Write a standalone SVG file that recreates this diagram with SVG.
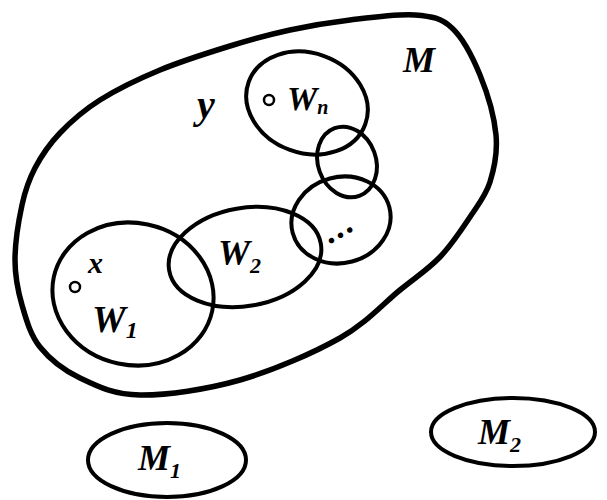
<svg xmlns="http://www.w3.org/2000/svg" width="607" height="500" viewBox="0 0 607 500">
<style>
.s{fill:none;stroke:#000;stroke-width:4}
.b{fill:none;stroke:#000;stroke-width:5.5}
.t{font-family:"Liberation Serif",serif;font-style:italic;font-weight:bold;fill:#000}
.p{fill:#fff;stroke:#000;stroke-width:2.5}
</style>
<rect width="607" height="500" fill="#fff"/>
<g id="M">
<path class="b" d="M15,260 C15,243.3 18.7,220.3 22,205 C25.3,189.7 28.7,180 35,168 C41.3,156 49.2,144.3 60,133 C70.8,121.7 83.3,110.5 100,100 C116.7,89.5 138.3,79 160,70 C181.7,61 208.3,52.7 230,46 C251.7,39.3 270,34.3 290,30 C310,25.7 329.2,22.5 350,20 C370.8,17.5 398,13.7 415,15 C432,16.3 441.2,18 452,28 C462.8,38 472.7,57.2 480,75 C487.3,92.8 494.3,117.2 496,135 C497.7,152.8 494.3,168.3 490,182 C485.7,195.7 478.3,204.5 470,217 C461.7,229.5 451.7,244.8 440,257 C428.3,269.2 416.7,276.5 400,290 C383.3,303.5 366.7,323 340,338 C313.3,353 273.3,370.5 240,380 C206.7,389.5 166.7,395.3 140,395 C113.3,394.7 96.7,386 80,378 C63.3,370 49.7,359.2 40,347 C30.3,334.8 26.2,319.5 22,305 C17.8,290.5 15,276.7 15,260 Z"/>
<text class="t" x="403" y="72" font-size="36">M</text>
</g>
<g id="W1">
<ellipse class="s" cx="133" cy="294" rx="81" ry="71" transform="rotate(12 133 294)"/>
<circle class="p" cx="75" cy="287" r="5"/>
<text class="t" x="88" y="273" font-size="30">x</text>
<text class="t" x="92" y="332" font-size="38">W<tspan font-size="24" dy="6">1</tspan></text>
</g>
<g id="W2">
<ellipse class="s" cx="245" cy="257" rx="77" ry="49" transform="rotate(-10 245 257)"/>
<text class="t" x="218" y="265" font-size="36">W<tspan font-size="22" dy="8">2</tspan></text>
</g>
<g id="Wdots">
<ellipse class="s" cx="341" cy="220" rx="50" ry="43" transform="rotate(-15 341 220)"/>
<text class="t" x="330" y="244" font-size="34" letter-spacing="2" transform="rotate(-30 330 244)">...</text>
</g>
<g id="Wlink">
<ellipse class="s" cx="347" cy="162" rx="29" ry="36" transform="rotate(-20 347 162)"/>
</g>
<g id="Wn">
<ellipse class="s" cx="307" cy="103" rx="62" ry="50" transform="rotate(20 307 103)"/>
<circle class="p" cx="269" cy="100" r="5"/>
<text class="t" x="197" y="118" font-size="40">y</text>
<text class="t" x="287" y="110" font-size="34">W<tspan font-size="20" dy="4">n</tspan></text>
</g>
<g id="M1">
<ellipse class="s" cx="167" cy="460" rx="79" ry="37"/>
<text class="t" x="138" y="470" font-size="36">M<tspan font-size="22" dy="8">1</tspan></text>
</g>
<g id="M2">
<ellipse class="s" cx="513" cy="432" rx="82" ry="34"/>
<text class="t" x="478" y="444" font-size="36">M<tspan font-size="22" dy="8">2</tspan></text>
</g>
</svg>
